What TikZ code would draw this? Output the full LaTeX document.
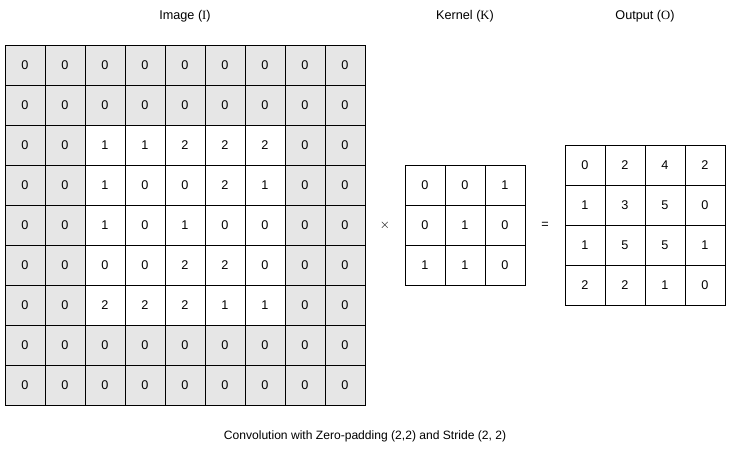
\documentclass[tikz,border=0pt]{standalone}
\usepackage{fontspec}
\setmainfont{Liberation Sans}
\newfontfamily\letterfont{Liberation Serif}
\usepackage{tikz}
\usetikzlibrary{positioning}
\definecolor{padgray}{HTML}{E6E6E6}

\begin{document}
\begin{tikzpicture}[
  x=1cm, y=1cm,
  cell/.style={draw, line width=0.7pt, minimum size=1cm, inner sep=0pt, font=\fontsize{9}{11}\selectfont},
  title/.style={font=\fontsize{9}{11}\selectfont},
  op/.style={font=\fontsize{9}{11}\selectfont}
]
\useasboundingbox (0,0) rectangle (18.275,-11.275);

% Image with zero padding
\foreach \row [count=\r from 0] in {{0,0,0,0,0,0,0,0,0},{0,0,0,0,0,0,0,0,0},{0,0,1,1,2,2,2,0,0},{0,0,1,0,0,2,1,0,0},{0,0,1,0,1,0,0,0,0},{0,0,0,0,2,2,0,0,0},{0,0,2,2,2,1,1,0,0},{0,0,0,0,0,0,0,0,0},{0,0,0,0,0,0,0,0,0}}{
  \foreach \v [count=\c from 0] in \row {
    \pgfmathtruncatemacro\pad{or(or(\r<2,\r>6),or(\c<2,\c>6))}
    \ifnum\pad=1 \def\cellfill{padgray}\else\def\cellfill{white}\fi
    \node[cell, fill=\cellfill] (img-\r-\c) at (0.625+\c, -1.625-\r) {\v};
  }
}

% Kernel
\foreach \row [count=\r from 0] in {{0,0,1},{0,1,0},{1,1,0}}{
  \foreach \v [count=\c from 0] in \row {
    \node[cell] (ker-\r-\c) at (10.625+\c, -4.625-\r) {\v};
  }
}

% Output
\foreach \row [count=\r from 0] in {{0,2,4,2},{1,3,5,0},{1,5,5,1},{2,2,1,0}}{
  \foreach \v [count=\c from 0] in \row {
    \node[cell] (out-\r-\c) at (14.625+\c, -4.125-\r) {\v};
  }
}

% Operators
\node[op] (times) at (9.625,-5.625) {$\times$};
\node[op] (equals) at (13.625,-5.625) {=};

% Titles
\node[title] (imgtitle) at (4.625,-0.4) {Image ({\letterfont I})};
\node[title] (kertitle) at (11.625,-0.4) {Kernel ({\letterfont K})};
\node[title] (outtitle) at (16.125,-0.4) {Output ({\letterfont O})};

% Caption
\node[title, font=\fontsize{8.6}{10}\selectfont] (caption) at (9.125,-10.9) {Convolution with Zero-padding (2,2) and Stride (2, 2)};
\end{tikzpicture}
\end{document}
